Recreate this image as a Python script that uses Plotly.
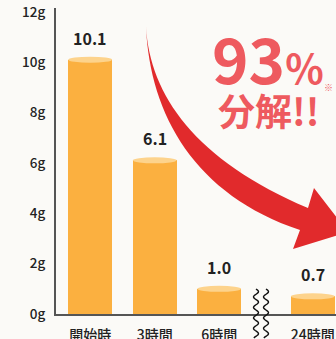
import numpy as np
import plotly.graph_objects as go

# ---- data ----
categories = ["開始時", "3時間", "6時間", "24時間"]
values = [10.1, 6.1, 1.0, 0.7]
value_labels = ["10.1", "6.1", "1.0", "0.7"]
y_tick_vals = [0, 2, 4, 6, 8, 10, 12]
y_tick_text = ["0g", "2g", "4g", "6g", "8g", "10g", "12g"]

# ---- layout constants ----
W, H = 336, 339
ML, MR, MT, MB = 56, 0, 8, 25
x_pos = [0, 1, 2, 3.45]          # extra gap for the axis break
bar_w = 0.68
x_range = [-0.53, 3.81]
y_range = [0, 12.15]

BG = "#FBFAF7"
BAR = "#FBB040"
BAR_TOP = "#FDD38C"
RED = "#E12A2C"
PINK = "#EE5A5F"
FONT = "Noto Sans CJK JP"

PW, PH = W - ML - MR, H - MT - MB
def px(x, y):
    return (x - ML) / PW, 1 - (y - MT) / PH

fig = go.Figure()
fig.add_trace(go.Bar(x=x_pos, y=values, width=bar_w, marker=dict(color=BAR, line=dict(width=0)),
                     hoverinfo="skip"))

shapes = []
eh = 3 * (y_range[1] - y_range[0]) / PH
for xp, v in zip(x_pos, values):
    shapes.append(dict(type="circle", xref="x", yref="y", x0=xp - bar_w / 2, x1=xp + bar_w / 2,
                       y0=v - eh, y1=v + eh, fillcolor=BAR_TOP, line=dict(width=0), layer="above"))

# big curved arrow (decoration), pixel coords -> paper
def P(x, y):
    a, b = px(x, y)
    return f"{a:.4f},{b:.4f}"
arrow = ("M" + P(146, 27) + " C" + P(150, 95) + " " + P(195, 160) + " " + P(308, 208) +
         " L" + P(314, 188) + " L" + P(348, 232) + " L" + P(293, 249) + " L" + P(300, 230) +
         " C" + P(195, 195) + " " + P(150, 115) + " " + P(146, 27) + " Z")
shapes.append(dict(type="path", xref="paper", yref="paper", path=arrow, fillcolor=RED,
                   line=dict(width=0), layer="above"))

# wavy break lines
for cx in (256, 266):
    ys = np.linspace(289, 338, 60)
    xs = cx + 2.5 * np.sin((ys - 289) / 10.5 * 2 * np.pi)
    d = "M" + " L".join(P(a, b) for a, b in zip(xs, ys))
    shapes.append(dict(type="path", xref="paper", yref="paper", path=d,
                       line=dict(color="#111", width=1.4), layer="above"))

annotations = []
for xp, v, t in zip(x_pos, values, value_labels):
    annotations.append(dict(x=xp, y=v, xref="x", yref="y", text=f"<b>{t}</b>", showarrow=False,
                            yanchor="bottom", yshift=8, font=dict(family=FONT, size=16, color="#222")))

def ann(x, y, text, size, color=PINK, xanchor="center"):
    a, b = px(x, y)
    annotations.append(dict(x=a, y=b, xref="paper", yref="paper", text=text, showarrow=False,
                            xanchor=xanchor, yanchor="middle",
                            font=dict(family=FONT, size=size, color=color)))

ann(268, 57, "<b>93<span style='font-size:40px'>%</span></b>", 62)
ann(328, 88, "※", 9)
ann(268, 110, "<b>分解!!</b>", 37)

fig.update_layout(
    width=W, height=H, margin=dict(l=ML, r=MR, t=MT, b=MB, autoexpand=False),
    paper_bgcolor=BG, plot_bgcolor=BG, showlegend=False, bargap=0,
    shapes=shapes, annotations=annotations,
    xaxis=dict(range=x_range, tickmode="array", tickvals=x_pos, ticktext=categories,
               showgrid=False, zeroline=False, showline=True, linecolor="#555", linewidth=1.5,
               ticks="", ticklabelstandoff=7, automargin=False,
               tickfont=dict(family=FONT, size=14, color="#222", weight=500)),
    yaxis=dict(range=y_range, tickmode="array", tickvals=y_tick_vals, ticktext=y_tick_text,
               showgrid=False, zeroline=False, showline=True, linecolor="#555", linewidth=2,
               ticks="", ticklabelstandoff=6, automargin=False,
               tickfont=dict(family=FONT, size=13.5, color="#222", weight=500)),
)
fig.write_html("out.html", config={"displayModeBar": False},
               post_script="document.body.style.margin='0';document.body.style.overflow='hidden';"
                           "document.body.style.background='" + BG + "';")
